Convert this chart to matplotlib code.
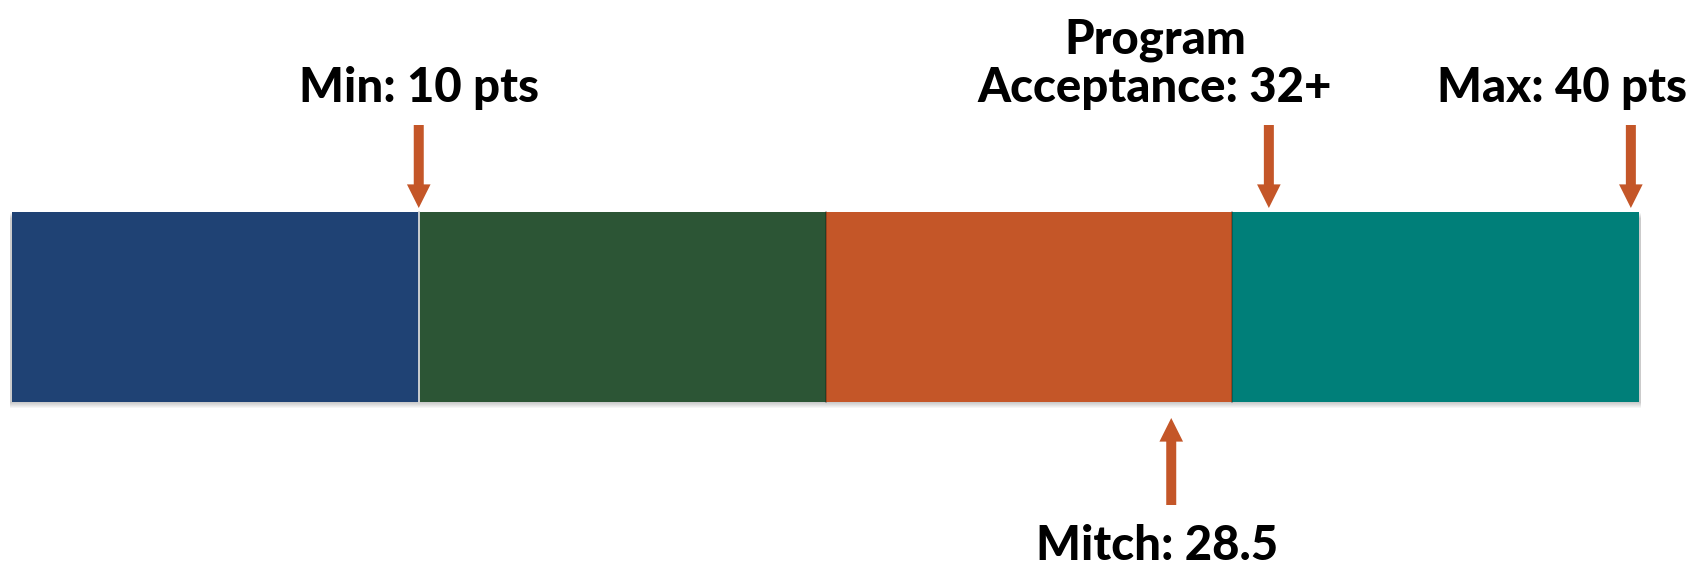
import matplotlib
matplotlib.use("Agg")
import matplotlib.pyplot as plt
from matplotlib.patches import Rectangle

# ---- data ----
segment_starts = [0, 10, 20, 30]
segment_widths = [10, 10, 10, 10]
segment_colors = ["#1F4274", "#2C5535", "#C45628", "#007F79"]

marker_labels = ["Min: 10 pts", "Program\nAcceptance: 32+", "Max: 40 pts", "Mitch: 28.5"]
marker_values = [10, 30.9, 39.8, 28.5]      # where the arrows point
marker_sides = ["top", "top", "top", "bottom"]
label_x = [10, 28.1, 38.1, 28.15]           # label centres (same scale)

arrow_color = "#C45628"

# ---- figure ----
W, H = 1703, 568
fig = plt.figure(figsize=(W / 100, H / 100), dpi=100)
ax = fig.add_axes([0, 0, 1, 1])
px_per_pt = (1639 - 12) / 40.0
ax.set_xlim(-12 / px_per_pt, (W - 12) / px_per_pt)
ax.set_ylim(H, 0)
ax.axis("off")

bar_top, bar_bot = 212, 402

# soft shadow
for k in range(6):
    off = 1 + k
    ax.add_patch(Rectangle((segment_starts[0] - 0.05, bar_top + off),
                           sum(segment_widths) + 0.1, bar_bot - bar_top,
                           facecolor="black", alpha=0.035, edgecolor="none", zorder=1))

for i, (s, w, c) in enumerate(zip(segment_starts, segment_widths, segment_colors)):
    ax.add_patch(Rectangle((s, bar_top), w, bar_bot - bar_top,
                           facecolor=c, edgecolor="none", zorder=2))
    if i > 0:
        sep = "#d8d8d8" if i == 1 else "#000000"
        alpha = 1.0 if i == 1 else 0.25
        ax.plot([s, s], [bar_top, bar_bot], color=sep, alpha=alpha, lw=1.3, zorder=2.5)

font = dict(family=["Lato", "DejaVu Sans"], fontweight="black", fontsize=34, color="black")

for lab, val, side, lx in zip(marker_labels, marker_values, marker_sides, label_x):
    if side == "top":
        tip, tail = 208, 125
        ax.text(lx, 102, lab, ha="center", va="baseline", linespacing=1.12, **font)
    else:
        tip, tail = 418, 505
        ax.text(lx, 560, lab, ha="center", va="baseline", **font)
    ax.annotate("", xy=(val, tip), xytext=(val, tail),
                arrowprops=dict(arrowstyle="simple,head_length=0.85,head_width=0.85,tail_width=0.36",
                                mutation_scale=20, color=arrow_color,
                                shrinkA=0, shrinkB=0, lw=0), zorder=3)

fig.savefig("out.png", dpi=100, facecolor="white")
